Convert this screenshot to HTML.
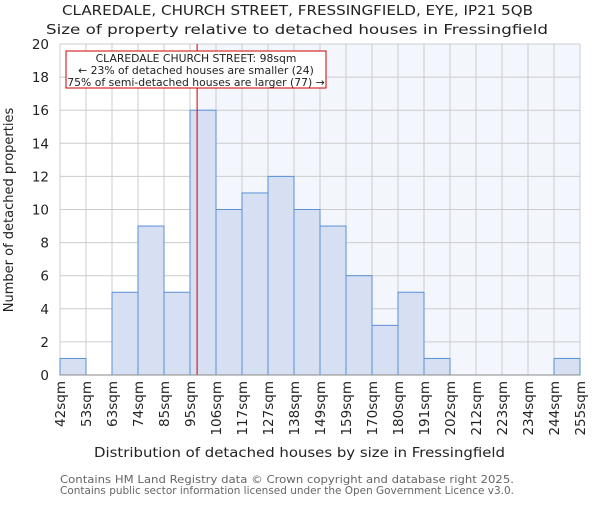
<!DOCTYPE html>
<html><head><meta charset="utf-8"><style>
body{margin:0;background:#fff;}
svg{font-family:"DejaVu Sans","Liberation Sans",sans-serif;}
</style></head><body>
<svg id="chart" width="600" height="500" xmlns="http://www.w3.org/2000/svg">
<text x="62" y="15" textLength="471" lengthAdjust="spacingAndGlyphs" font-size="13" fill="#222">CLAREDALE, CHURCH STREET, FRESSINGFIELD, EYE, IP21 5QB</text>
<text x="46" y="34" textLength="502" lengthAdjust="spacingAndGlyphs" font-size="13" fill="#222">Size of property relative to detached houses in Fressingfield</text>
<g id="plot"></g>
<text x="94" y="457" textLength="411" lengthAdjust="spacingAndGlyphs" font-size="13" fill="#222">Distribution of detached houses by size in Fressingfield</text>
<text transform="translate(13,210) rotate(-90)" text-anchor="middle" font-size="13" fill="#222">Number of detached properties</text>
<text x="60" y="483" textLength="454" lengthAdjust="spacingAndGlyphs" font-size="10.5" fill="#666">Contains HM Land Registry data © Crown copyright and database right 2025.</text>
<text x="60" y="494" textLength="454" lengthAdjust="spacingAndGlyphs" font-size="10.5" fill="#666">Contains public sector information licensed under the Open Government Licence v3.0.</text>
</svg>
<script>
const categories=["42sqm","53sqm","63sqm","74sqm","85sqm","95sqm","106sqm","117sqm","127sqm","138sqm","149sqm","159sqm","170sqm","180sqm","191sqm","202sqm","212sqm","223sqm","234sqm","244sqm","255sqm"];
const counts=[1,0,5,9,5,16,10,11,12,10,9,6,3,5,1,0,0,0,0,1];
const yTicks=[0,2,4,6,8,10,12,14,16,18,20];
const markerValue=98;
const binEdges=[42,53,63,74,85,95,106,117,127,138,149,159,170,180,191,202,212,223,234,244,255];
const L=60,R=580,T=44,B=375,yMax=20;
const NS="http://www.w3.org/2000/svg";
const g=document.getElementById('plot');
const bw=(R-L)/counts.length;
const xs=i=>L+i*bw;
const ys=v=>B-(v/yMax)*(B-T);
function el(t,a){const e=document.createElementNS(NS,t);for(const k in a)e.setAttribute(k,a[k]);g.appendChild(e);return e;}
let mi=0;for(let i=0;i<binEdges.length-1;i++){if(markerValue>=binEdges[i]&&markerValue<binEdges[i+1])mi=i;}
const mx=xs(mi)+(markerValue-binEdges[mi])/(binEdges[mi+1]-binEdges[mi])*bw;
const bg=el('rect',{x:mx,y:T,width:R-mx,height:B-T,fill:'#f3f6fd'});


yTicks.forEach(v=>{
 const l=el('line',{x1:L,x2:R,y1:ys(v),y2:ys(v),stroke:'#ccc','stroke-width':1});
 
 
 const t=el('text',{x:L-11,y:ys(v)+5,'text-anchor':'end','font-size':13.5,fill:'#222'});
 t.textContent=v;
 
 
});
for(let i=0;i<=counts.length;i++){
 const l=el('line',{x1:xs(i),x2:xs(i),y1:T,y2:B,stroke:'#ccc','stroke-width':1});
 
 
}
counts.forEach((c,i)=>{
 if(c<=0)return;
 const r=el('rect',{x:xs(i),y:ys(c),width:bw,height:B-ys(c),fill:'#d6e0f2',stroke:'#5b8fd6','stroke-width':1});
 
 
});
categories.forEach((c,i)=>{
 const t=el('text',{transform:`translate(${xs(i)+5},381) rotate(-90)`,'text-anchor':'end','font-size':13.5,fill:'#222'});
 t.textContent=c;
 
 
});
const ml=el('line',{x1:mx,x2:mx,y1:T,y2:B,stroke:'#c00','stroke-width':1});


const box=el('rect',{x:66,y:51,width:260,height:37,fill:'#fff',stroke:'#c00','stroke-width':1});


["CLAREDALE CHURCH STREET: 98sqm","← 23% of detached houses are smaller (24)","75% of semi-detached houses are larger (77) →"].forEach((s,k)=>{
 const t=el('text',{x:196,y:62+k*12,'text-anchor':'middle','font-size':10.8,fill:'#222'});
 t.textContent=s;
 
 
});
const ax=el('line',{x1:L,x2:R,y1:B,y2:B,stroke:'#888','stroke-width':1});


</script>
</body></html>
